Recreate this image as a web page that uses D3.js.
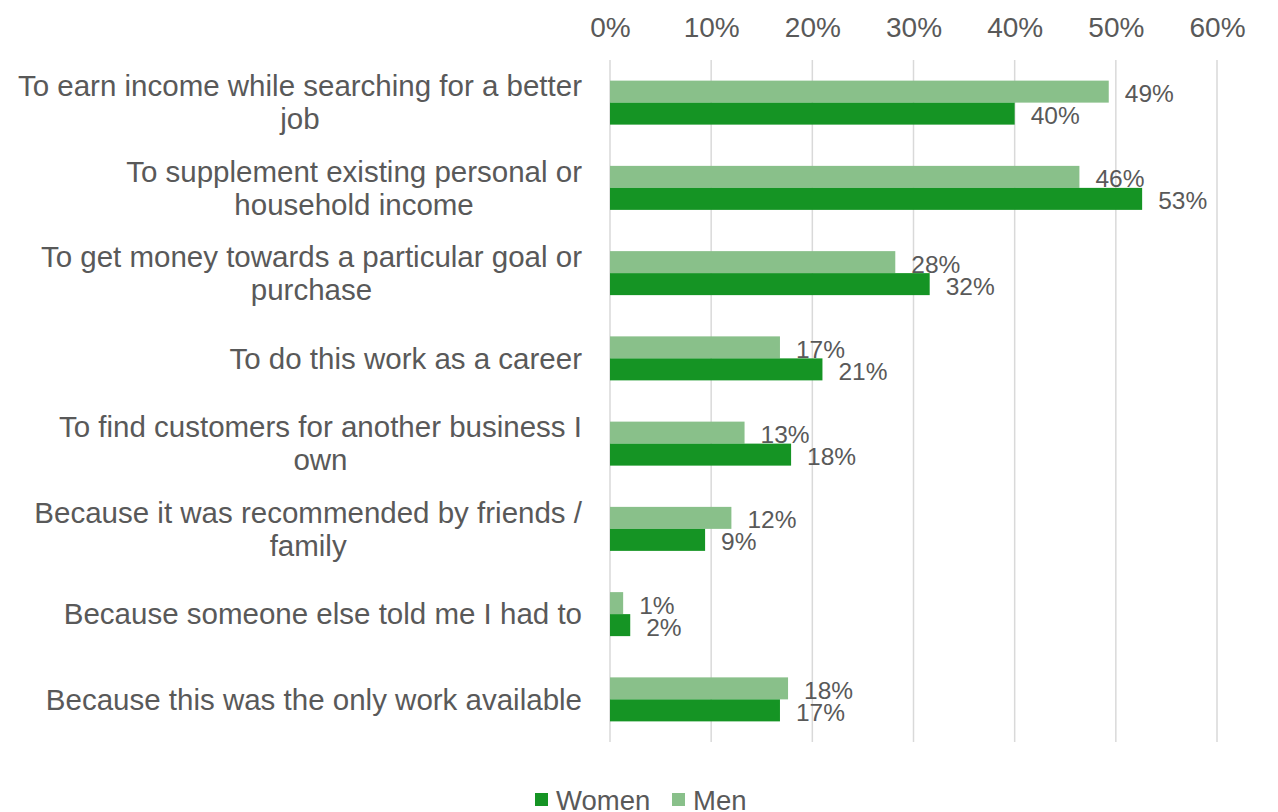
<!DOCTYPE html>
<html><head><meta charset="utf-8">
<script src="https://cdn.jsdelivr.net/npm/d3@7"></script>
<style>body{margin:0;background:#fff;}svg{display:block;font-family:"Liberation Sans",Arial,sans-serif;}</style>
</head><body>
<svg id="c" width="1278" height="812"></svg>
<script>
const categories = [
  ["To earn income while searching for a better", "job"],
  ["To supplement existing personal or", "household income"],
  ["To get money towards a particular goal or", "purchase"],
  ["To do this work as a career"],
  ["To find customers for another business I", "own"],
  ["Because it was recommended by friends /", "family"],
  ["Because someone else told me I had to"],
  ["Because this was the only work available"]
];
const men   = [49.3, 46.4, 28.2, 16.8, 13.3, 12.0, 1.3, 17.6];
const women = [40.0, 52.6, 31.6, 21.0, 17.9, 9.4, 2.0, 16.8];
const menLabels   = ["49%","46%","28%","17%","13%","12%","1%","18%"];
const womenLabels = ["40%","53%","32%","21%","18%","9%","2%","17%"];
const ticks = [0,10,20,30,40,50,60];
const tickLabels = ["0%","10%","20%","30%","40%","50%","60%"];
const seriesNames = ["Women","Men"];

const colWomen = "#159424", colMen = "#89c08a", txt = "#595959";
const svg = d3.select("#c");
const x = d3.scaleLinear().domain([0,60]).range([610,1217]);
const y = d3.scaleBand().domain(d3.range(categories.length)).range([60,742]);
const barH = 22;

// gridlines
svg.append("g").selectAll("line").data(ticks).join("line")
  .attr("x1", d=>x(d)).attr("x2", d=>x(d)).attr("y1",60).attr("y2",742)
  .attr("stroke","#d9d9d9").attr("stroke-width",1.5);

// top axis
const ax = svg.append("g").attr("transform","translate(0,60)")
  .call(d3.axisTop(x).tickValues(ticks).tickFormat((d,i)=>tickLabels[i]).tickSize(0).tickPadding(23));
ax.select(".domain").remove();
ax.selectAll("text").attr("fill",txt).style("font-size","28px").style("font-family","'Liberation Sans',Arial,sans-serif");

// bars
const g = svg.append("g");
const mid = i => y(i) + y.bandwidth()/2;
g.selectAll("rect.men").data(men).join("rect").attr("class","men")
  .attr("x",x(0)).attr("y",(d,i)=>mid(i)-barH).attr("width",d=>x(d)-x(0)).attr("height",barH)
  .attr("fill",colMen);
g.selectAll("rect.women").data(women).join("rect").attr("class","women")
  .attr("x",x(0)).attr("y",(d,i)=>mid(i)).attr("width",d=>x(d)-x(0)).attr("height",barH)
  .attr("fill",colWomen);

// data labels
g.selectAll("text.ml").data(men).join("text").attr("class","ml")
  .attr("x",d=>x(d)+16).attr("y",(d,i)=>mid(i)-barH/2+2).attr("dy","0.35em")
  .attr("fill",txt).style("font-size","24.5px").text((d,i)=>menLabels[i]);
g.selectAll("text.wl").data(women).join("text").attr("class","wl")
  .attr("x",d=>x(d)+16).attr("y",(d,i)=>mid(i)+barH/2+2).attr("dy","0.35em")
  .attr("fill",txt).style("font-size","24.5px").text((d,i)=>womenLabels[i]);

// category labels (block right-aligned, lines centred within block)
const lh = 33, rightX = 582;
const cl = svg.append("g").selectAll("text").data(categories).join("text")
  .attr("text-anchor","middle").attr("fill",txt).style("font-size","29.5px")
  .attr("y",(d,i)=>mid(i) - (d.length-1)*lh/2);
cl.each(function(d){
  const t = d3.select(this);
  const spans = d.map((line,j)=>t.append("tspan").attr("dy", j===0 ? "0.35em" : lh).text(line));
  const maxW = d3.max(spans, s=>s.node().getComputedTextLength());
  spans.forEach(s=>s.attr("x", rightX - maxW/2));
});

// legend
const leg = svg.append("g").attr("transform","translate(535,800)");
const items = [{n:seriesNames[0],c:colWomen,x:0},{n:seriesNames[1],c:colMen,x:137}];
items.forEach(it=>{
  leg.append("rect").attr("x",it.x).attr("y",-7).attr("width",13).attr("height",13).attr("fill",it.c);
  leg.append("text").attr("x",it.x+21).attr("y",0).attr("dy","0.35em").attr("fill",txt)
    .style("font-size","27.5px").text(it.n);
});
</script>
</body></html>
